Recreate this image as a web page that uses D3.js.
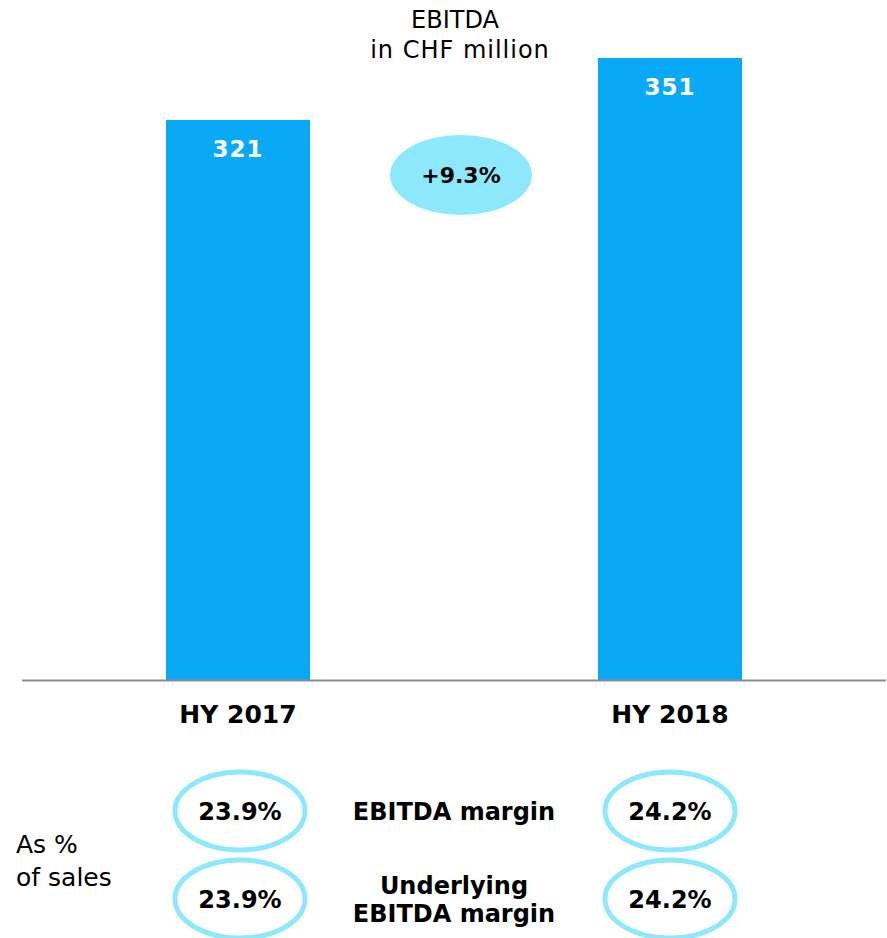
<!DOCTYPE html>
<html>
<head>
<meta charset="utf-8">
<script src="https://cdn.jsdelivr.net/npm/d3@7"></script>
<style>
  body { margin: 0; background: #fff; }
  svg { display: block; font-family: "DejaVu Sans", Verdana, sans-serif; }
</style>
</head>
<body>
<svg id="chart" width="887" height="938"></svg>
<script>
// data
var periods = ["HY 2017", "HY 2018"];
var ebitda = [321, 351];
var growthLabel = "+9.3%";
var marginRows = ["EBITDA margin", "Underlying\nEBITDA margin"];
var ebitdaMargin = ["23.9%", "24.2%"];
var underlyingMargin = ["23.9%", "24.2%"];

var svg = d3.select("#chart");

var x = d3.scaleBand()
    .domain(periods)
    .range([22, 886])
    .paddingInner(2 / 3)
    .paddingOuter(1 / 3);

var y = d3.scaleLinear()
    .domain([50, 351])
    .range([680, 58]);

var barColor = "#0aa9f6",
    ringColor = "#8de8fc";

// title
svg.append("text")
    .attr("x", 455).attr("y", 28)
    .attr("text-anchor", "middle")
    .style("font-size", "24px")
    .text("EBITDA");
svg.append("text")
    .attr("x", 460).attr("y", 58)
    .attr("text-anchor", "middle")
    .style("font-size", "24px")
    .style("letter-spacing", "1px")
    .text("in CHF million");

// bars
var bars = svg.selectAll("g.bar")
    .data(periods)
    .enter().append("g")
    .attr("class", "bar");

bars.append("rect")
    .attr("x", function(d) { return x(d); })
    .attr("y", function(d, i) { return y(ebitda[i]); })
    .attr("width", x.bandwidth())
    .attr("height", function(d, i) { return y.range()[0] - y(ebitda[i]); })
    .style("fill", barColor);

bars.append("text")
    .attr("x", function(d) { return x(d) + x.bandwidth() / 2; })
    .attr("y", function(d, i) { return y(ebitda[i]) + 37; })
    .attr("text-anchor", "middle")
    .style("fill", "#fff")
    .style("font-weight", "bold")
    .style("font-size", "23px")
    .style("letter-spacing", "1px")
    .text(function(d, i) { return ebitda[i]; });

// baseline
svg.append("line")
    .attr("x1", x.range()[0]).attr("x2", x.range()[1])
    .attr("y1", y.range()[0] + 0.5).attr("y2", y.range()[0] + 0.5)
    .style("stroke", "#8c8c8c")
    .style("stroke-width", 2);

// category labels
svg.selectAll("text.cat")
    .data(periods)
    .enter().append("text")
    .attr("class", "cat")
    .attr("x", function(d) { return x(d) + x.bandwidth() / 2; })
    .attr("y", 723)
    .attr("text-anchor", "middle")
    .style("font-weight", "bold")
    .style("font-size", "25px")
    .text(function(d) { return d; });

// growth bubble
svg.append("ellipse")
    .attr("cx", 461).attr("cy", 175)
    .attr("rx", 71).attr("ry", 40)
    .style("fill", ringColor);
svg.append("text")
    .attr("x", 461).attr("y", 183)
    .attr("text-anchor", "middle")
    .style("font-weight", "bold")
    .style("font-size", "22px")
    .text(growthLabel);

// margins
var rowY = [811, 899];
var rowVals = [ebitdaMargin, underlyingMargin];
var midX = (x(periods[0]) + x(periods[1]) + x.bandwidth()) / 2;

rowVals.forEach(function(vals, r) {
    svg.selectAll("g.ring" + r)
        .data(periods)
        .enter().append("g")
        .attr("class", "ring" + r)
        .each(function(d, i) {
            var g = d3.select(this);
            var cx = x(d) + x.bandwidth() / 2 + (i == 0 ? 2 : 0);
            g.append("ellipse")
                .attr("cx", cx).attr("cy", rowY[r])
                .attr("rx", 65).attr("ry", 39)
                .style("fill", "none")
                .style("stroke", ringColor)
                .style("stroke-width", 5);
            g.append("text")
                .attr("x", cx).attr("y", rowY[r] + 9)
                .attr("text-anchor", "middle")
                .style("font-weight", "bold")
                .style("font-size", "24px")
                .text(vals[i]);
        });

    var lines = marginRows[r].split("\n");
    var t = svg.append("text")
        .attr("text-anchor", "middle")
        .style("font-weight", "bold")
        .style("font-size", "24px");
    lines.forEach(function(l, k) {
        t.append("tspan")
            .attr("x", midX)
            .attr("y", rowY[r] + 9 + (k - (lines.length - 1) / 2) * 28)
            .text(l);
    });
});

// side label
svg.append("text")
    .attr("x", 16).attr("y", 853)
    .style("font-size", "25px")
    .text("As %");
svg.append("text")
    .attr("x", 16).attr("y", 886)
    .style("font-size", "25px")
    .text("of sales");
</script>
</body>
</html>
